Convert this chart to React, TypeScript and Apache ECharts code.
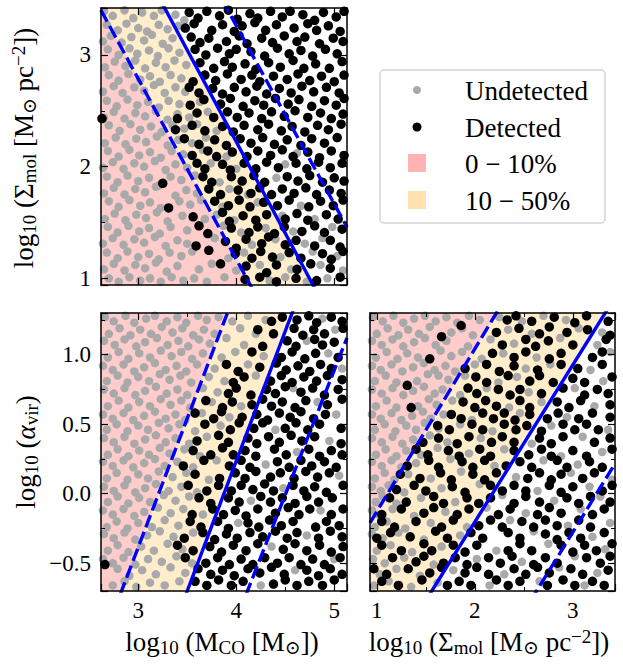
import React, { useEffect, useRef } from 'react';
import * as echarts from 'echarts';

type Pt = [number, number];

// ---------- axis ranges ----------
const massRange: Pt = [2.62, 5.13];      // log10 M_CO
const sigmaRangeY: Pt = [0.94, 3.42];    // log10 Sigma_mol (top panel, y)
const sigmaRangeX: Pt = [0.93, 3.43];    // log10 Sigma_mol (bottom right, x)
const alphaRange: Pt = [-0.70, 1.30];    // log10 alpha_vir

// ---------- detection-fraction boundaries (two points on each line) ----------
const massSigmaP10: Pt[] = [[2.62, 3.40], [4.14, 0.945]];
const massSigmaP50: Pt[] = [[3.27, 3.42], [4.78, 0.945]];
const massSigmaP90: Pt[] = [[3.92, 3.39], [5.11, 1.49]];
const massAlphaP10: Pt[] = [[2.83, -0.70], [3.91, 1.30]];
const massAlphaP50: Pt[] = [[3.50, -0.70], [4.57, 1.30]];
const massAlphaP90: Pt[] = [[4.145, -0.645], [5.11, 1.086]];
const sigmaAlphaP10: Pt[] = [[0.93, -0.21], [2.22, 1.30]];
const sigmaAlphaP50: Pt[] = [[1.56, -0.70], [3.33, 1.30]];
const sigmaAlphaP90: Pt[] = [[2.63, -0.70], [3.43, 0.216]];

const legendLabels = ['Undetected', 'Detected', '0 \u2212 10%', '10 \u2212 50%'];

// ---------- clouds: top panel (log M_CO, log Sigma_mol) ----------
const massSigmaUndetected: Pt[] = [
[2.65,3.39],[2.74,3.35],[2.86,3.40],[2.95,3.33],[3.04,3.38],[3.16,3.35],[3.24,3.40],[3.38,3.36],[3.47,3.31],
[2.68,3.27],[2.79,3.22],[2.88,3.28],[3.00,3.24],[3.09,3.21],[3.21,3.27],[3.30,3.23],[3.41,3.26],
[2.64,3.12],[2.72,3.17],[2.83,3.11],[2.93,3.16],[3.06,3.13],[3.14,3.18],[3.25,3.10],[3.35,3.15],
[2.69,3.05],[2.80,3.00],[2.91,3.06],[2.99,3.01],[3.11,3.04],[3.20,2.99],[3.31,3.06],[3.42,3.02],
[2.66,2.89],[2.76,2.94],[2.87,2.90],[2.97,2.95],[3.07,2.88],[3.18,2.93],[3.28,2.89],[3.37,2.95],[3.49,2.91],
[2.70,2.82],[2.80,2.77],[2.90,2.83],[3.02,2.78],[3.12,2.81],[3.22,2.76],[3.33,2.82],[3.44,2.79],
[2.64,2.67],[2.75,2.72],[2.84,2.66],[2.96,2.71],[3.06,2.68],[3.16,2.73],[3.27,2.66],[3.38,2.71],[3.48,2.67],
[2.68,2.59],[2.78,2.54],[2.89,2.60],[2.99,2.55],[3.10,2.58],[3.21,2.53],[3.31,2.59],[3.42,2.56],[3.63,2.58],
[2.65,2.44],[2.75,2.49],[2.86,2.43],[2.97,2.48],[3.07,2.45],[3.18,2.50],[3.30,2.42],[3.40,2.47],[3.52,2.44],[3.71,2.49],
[2.70,2.37],[2.81,2.32],[2.92,2.38],[3.02,2.33],[3.13,2.36],[3.24,2.31],[3.35,2.37],[3.47,2.34],[3.60,2.38],[3.80,2.32],
[2.66,2.21],[2.77,2.26],[2.87,2.20],[2.98,2.25],[3.08,2.22],[3.19,2.27],[3.30,2.19],[3.41,2.24],[3.55,2.21],[3.69,2.26],
[2.69,2.14],[2.80,2.09],[2.91,2.15],[3.01,2.10],[3.12,2.13],[3.23,2.08],[3.34,2.14],[3.46,2.11],[3.66,2.15],[3.90,2.09],[4.62,2.12],
[2.64,1.99],[2.74,2.04],[2.85,1.98],[2.96,2.03],[3.06,2.00],[3.17,2.05],[3.28,1.97],[3.38,2.02],[3.50,1.99],[3.74,2.03],[4.00,1.98],[4.50,2.02],
[2.68,1.91],[2.79,1.86],[2.89,1.92],[3.00,1.87],[3.11,1.90],[3.21,1.83],[3.33,1.91],[3.44,1.88],[3.58,1.92],[3.83,1.86],[4.41,1.90],
[2.65,1.76],[2.75,1.81],[2.86,1.75],[2.97,1.80],[3.07,1.77],[3.18,1.82],[3.38,1.74],[3.49,1.79],[3.60,1.76],[3.93,1.80],[4.12,1.75],
[2.70,1.69],[2.80,1.64],[2.91,1.70],[3.02,1.65],[3.12,1.68],[3.23,1.63],[3.42,1.69],[3.53,1.66],[3.64,1.70],[3.86,1.64],[4.22,1.68],[4.66,1.65],
[2.66,1.53],[2.76,1.58],[2.87,1.52],[2.98,1.57],[3.08,1.54],[3.19,1.59],[3.30,1.51],[3.45,1.56],[3.68,1.53],[3.80,1.57],[3.98,1.52],[4.47,1.56],[4.80,1.53],
[2.69,1.46],[2.79,1.41],[2.90,1.47],[3.01,1.42],[3.11,1.45],[3.22,1.40],[3.33,1.46],[3.50,1.43],[3.87,1.47],[4.05,1.41],[4.30,1.45],[4.58,1.42],[4.98,1.46],
[2.64,1.31],[2.74,1.36],[2.85,1.30],[2.96,1.35],[3.06,1.32],[3.17,1.37],[3.28,1.29],[3.40,1.34],[3.50,1.31],[3.78,1.36],[4.16,1.30],[4.40,1.35],[4.70,1.31],[4.88,1.36],
[2.68,1.23],[2.79,1.18],[2.89,1.24],[3.00,1.19],[3.11,1.22],[3.21,1.17],[3.32,1.23],[3.44,1.20],[3.55,1.24],[3.92,1.18],[4.08,1.23],[4.45,1.19],[4.78,1.24],[5.03,1.20],
[2.65,1.08],[2.75,1.13],[2.86,1.07],[2.97,1.12],[3.07,1.09],[3.18,1.14],[3.29,1.06],[3.40,1.11],[3.62,1.08],[3.75,1.13],[4.00,1.07],[4.24,1.12],[4.56,1.08],[4.86,1.12],[5.09,1.07],
[2.70,1.00],[2.80,0.97],[2.91,1.01],[3.02,0.98],[3.12,1.00],[3.23,0.97],[3.34,1.01],[3.46,0.98],[3.57,1.00],[3.70,0.97],[3.88,1.01],[4.34,0.98],[4.50,1.01],[4.72,0.97],[4.93,1.00]
];
const massSigmaDetected: Pt[] = [
[3.52,3.38],[3.61,3.33],[3.70,3.39],[3.83,3.35],[3.92,3.40],[4.01,3.32],[4.14,3.37],[4.22,3.33],[4.35,3.39],[4.47,3.34],[4.55,3.39],[4.68,3.36],[4.80,3.31],[4.89,3.38],[5.02,3.34],[5.10,3.39],
[3.48,3.24],[3.57,3.28],[3.75,3.22],[3.86,3.27],[3.98,3.21],[4.06,3.26],[4.19,3.29],[4.30,3.22],[4.41,3.27],[4.59,3.24],[4.73,3.28],[4.82,3.22],[4.94,3.26],[5.06,3.21],
[3.54,3.16],[3.63,3.11],[3.72,3.15],[3.90,3.12],[4.03,3.17],[4.11,3.10],[4.26,3.15],[4.37,3.11],[4.49,3.17],[4.62,3.12],[4.70,3.16],[4.85,3.10],[4.99,3.15],[5.09,3.12],
[3.58,3.05],[3.69,3.00],[3.81,3.06],[3.93,3.01],[4.00,3.05],[4.15,3.03],[4.29,2.99],[4.42,3.06],[4.54,3.01],[4.66,3.04],[4.78,2.99],[4.91,3.05],[5.03,3.01],
[3.63,2.93],[3.77,2.88],[3.88,2.94],[3.96,2.89],[4.09,2.92],[4.20,2.87],[4.33,2.93],[4.45,2.89],[4.58,2.95],[4.69,2.88],[4.81,2.92],[4.95,2.88],[5.08,2.94],
[3.56,2.76],[3.68,2.82],[3.79,2.77],[3.91,2.83],[4.05,2.78],[4.16,2.82],[4.24,2.76],[4.38,2.81],[4.52,2.78],[4.63,2.83],[4.75,2.77],[4.87,2.81],[5.00,2.76],[5.10,2.82],
[3.52,2.71],[3.62,2.66],[3.76,2.70],[3.86,2.65],[3.98,2.71],[4.10,2.67],[4.21,2.72],[4.31,2.65],[4.44,2.70],[4.56,2.66],[4.67,2.72],[4.79,2.67],[4.92,2.71],[5.05,2.66],
[3.53,2.55],[3.67,2.60],[3.84,2.56],[3.94,2.61],[4.07,2.54],[4.19,2.59],[4.28,2.55],[4.40,2.61],[4.53,2.56],[4.64,2.60],[4.77,2.54],[4.90,2.59],[5.02,2.55],[5.10,2.61],
[2.63,2.43],[3.40,2.43],[3.60,2.48],[3.77,2.44],[3.91,2.49],[4.01,2.44],[4.13,2.48],[4.26,2.43],[4.36,2.49],[4.49,2.45],[4.60,2.50],[4.73,2.44],[4.86,2.48],[4.97,2.43],[5.09,2.47],
[3.38,2.33],[3.55,2.37],[3.68,2.32],[3.86,2.36],[3.97,2.31],[4.08,2.37],[4.22,2.33],[4.33,2.38],[4.46,2.32],[4.57,2.36],[4.70,2.31],[4.83,2.37],[4.94,2.33],[5.07,2.38],
[3.47,2.25],[3.62,2.20],[3.78,2.24],[3.90,2.19],[4.04,2.25],[4.15,2.21],[4.27,2.26],[4.39,2.20],[4.52,2.24],[4.66,2.19],[4.77,2.25],[4.90,2.21],[5.03,2.26],
[3.55,2.10],[3.71,2.14],[3.80,2.09],[3.96,2.13],[4.11,2.09],[4.22,2.14],[4.35,2.10],[4.47,2.15],[4.58,2.09],[4.73,2.13],[4.85,2.08],[4.97,2.14],[5.10,2.10],
[3.60,2.03],[3.68,1.98],[3.86,2.02],[3.94,1.97],[4.08,2.03],[4.20,1.98],[4.31,2.04],[4.43,1.99],[4.61,2.03],[4.72,1.98],[4.84,2.04],[4.96,1.99],[5.08,2.03],
[3.25,1.85],[3.66,1.91],[3.75,1.86],[3.95,1.91],[4.06,1.87],[4.18,1.92],[4.29,1.86],[4.52,1.91],[4.63,1.87],[4.75,1.92],[4.88,1.86],[5.00,1.90],[5.10,1.87],
[3.72,1.80],[3.84,1.75],[4.02,1.79],[4.15,1.76],[4.24,1.81],[4.36,1.75],[4.47,1.80],[4.59,1.76],[4.71,1.81],[4.82,1.75],[4.95,1.79],[5.07,1.76],
[3.31,1.63],[3.78,1.69],[3.92,1.65],[4.03,1.70],[4.14,1.64],[4.28,1.68],[4.42,1.65],[4.54,1.70],[4.74,1.64],[4.86,1.69],[4.99,1.65],[5.09,1.70],
[3.56,1.55],[3.86,1.59],[3.93,1.51],[4.07,1.56],[4.20,1.52],[4.31,1.57],[4.50,1.53],[4.62,1.58],[4.73,1.52],[4.92,1.57],[5.04,1.53],
[3.62,1.47],[3.71,1.40],[3.95,1.45],[4.13,1.41],[4.22,1.46],[4.39,1.40],[4.49,1.46],[4.67,1.42],[4.80,1.47],[4.90,1.41],[5.08,1.44],
[3.59,1.29],[3.89,1.33],[4.00,1.27],[4.10,1.35],[4.26,1.31],[4.33,1.37],[4.50,1.30],[4.61,1.34],[4.80,1.29],[4.96,1.34],[5.06,1.28],
[3.72,1.25],[3.84,1.13],[3.99,1.22],[4.16,1.18],[4.25,1.24],[4.37,1.19],[4.54,1.23],[4.66,1.18],[4.88,1.22],[4.97,1.17],[5.09,1.24],
[4.10,1.11],[4.31,1.05],[4.41,1.12],[4.62,1.08],[4.76,1.13],[4.96,1.09],
[4.09,0.99],[4.24,1.01],[4.41,0.97],[4.61,1.00],[4.82,0.98],[5.06,1.01]
];

// ---------- clouds: bottom-left panel (log M_CO, log alpha_vir) ----------
const massAlphaUndetected: Pt[] = [
[2.66,1.27],[2.75,1.24],[2.87,1.28],[2.96,1.23],[3.08,1.26],[3.17,1.28],[3.29,1.24],[3.40,1.27],[3.49,1.23],[3.61,1.28],[3.70,1.25],[3.82,1.27],[3.96,1.24],[4.12,1.28],[4.30,1.25],[4.88,1.26],
[2.70,1.15],[2.81,1.19],[2.92,1.14],[3.02,1.18],[3.13,1.15],[3.24,1.20],[3.35,1.16],[3.45,1.19],[3.56,1.14],[3.67,1.18],[3.78,1.15],[4.04,1.19],[4.20,1.15],[5.01,1.18],
[2.65,1.10],[2.76,1.07],[2.86,1.11],[2.98,1.06],[3.07,1.09],[3.19,1.12],[3.30,1.07],[3.41,1.10],[3.51,1.06],[3.62,1.11],[3.73,1.08],[3.90,1.12],[4.08,1.07],[4.72,1.10],
[2.69,0.98],[2.80,1.02],[2.90,0.97],[3.01,1.01],[3.12,0.98],[3.23,1.03],[3.34,0.99],[3.44,1.02],[3.55,0.97],[3.66,1.01],[3.85,0.98],[3.99,1.02],[4.28,0.99],[4.94,1.01],
[2.64,0.92],[2.74,0.89],[2.85,0.93],[2.96,0.88],[3.06,0.91],[3.17,0.94],[3.28,0.89],[3.39,0.92],[3.49,0.88],[3.60,0.93],[3.78,0.90],[4.12,0.93],[5.08,0.90],
[2.68,0.81],[2.79,0.85],[2.89,0.80],[3.00,0.84],[3.11,0.81],[3.22,0.86],[3.32,0.82],[3.43,0.85],[3.54,0.80],[3.72,0.84],[3.88,0.81],[4.20,0.85],
[2.65,0.75],[2.75,0.72],[2.86,0.76],[2.97,0.71],[3.07,0.74],[3.18,0.77],[3.29,0.72],[3.40,0.75],[3.50,0.71],[3.66,0.76],[3.81,0.73],[4.58,0.76],
[2.69,0.63],[2.80,0.67],[2.90,0.62],[3.01,0.66],[3.12,0.63],[3.23,0.68],[3.33,0.64],[3.44,0.67],[3.53,0.62],[3.75,0.66],[4.05,0.63],[4.83,0.66],
[2.64,0.57],[2.74,0.54],[2.85,0.58],[2.95,0.53],[3.06,0.56],[3.17,0.59],[3.28,0.54],[3.38,0.57],[3.48,0.53],[3.65,0.58],[3.93,0.55],[5.02,0.57],
[2.68,0.46],[2.78,0.50],[2.89,0.45],[3.00,0.49],[3.10,0.46],[3.21,0.51],[3.31,0.47],[3.42,0.50],[3.58,0.45],[3.84,0.49],[4.40,0.46],
[2.65,0.40],[2.75,0.37],[2.86,0.41],[2.96,0.36],[3.07,0.39],[3.18,0.42],[3.28,0.37],[3.38,0.40],[3.52,0.36],[3.70,0.41],[4.95,0.38],
[2.69,0.28],[2.79,0.32],[2.90,0.27],[3.01,0.31],[3.11,0.28],[3.22,0.33],[3.32,0.29],[3.47,0.32],[3.63,0.27],[4.62,0.30],
[2.64,0.23],[2.74,0.20],[2.85,0.24],[2.95,0.19],[3.06,0.22],[3.17,0.25],[3.27,0.20],[3.40,0.23],[3.56,0.19],[3.80,0.24],[4.30,0.21],
[2.68,0.11],[2.78,0.15],[2.89,0.10],[3.00,0.14],[3.10,0.11],[3.21,0.16],[3.35,0.12],[3.49,0.15],[3.72,0.10],[5.05,0.13],
[2.65,0.05],[2.75,0.02],[2.86,0.06],[2.97,0.01],[3.07,0.04],[3.18,0.07],[3.31,0.02],[3.44,0.05],[3.60,0.01],[4.48,0.04],
[2.69,-0.06],[2.79,-0.02],[2.90,-0.07],[3.01,-0.03],[3.12,-0.06],[3.26,-0.01],[3.38,-0.05],[3.52,-0.02],[4.15,-0.05],
[2.64,-0.12],[2.74,-0.15],[2.85,-0.11],[2.96,-0.16],[3.06,-0.13],[3.20,-0.10],[3.33,-0.14],[3.46,-0.11],[3.66,-0.15],[4.86,-0.12],
[2.68,-0.24],[2.78,-0.20],[2.89,-0.25],[3.00,-0.21],[3.14,-0.24],[3.27,-0.19],[3.41,-0.23],[4.02,-0.21],
[2.65,-0.29],[2.75,-0.32],[2.86,-0.28],[2.97,-0.33],[3.09,-0.30],[3.22,-0.27],[3.36,-0.31],[3.56,-0.28],[4.72,-0.30],
[2.69,-0.41],[2.79,-0.37],[2.90,-0.42],[3.03,-0.38],[3.16,-0.41],[3.30,-0.36],[3.45,-0.40],[4.36,-0.38],
[2.64,-0.47],[2.74,-0.50],[2.85,-0.46],[2.97,-0.51],[3.10,-0.47],[3.24,-0.49],[3.39,-0.45],[3.55,-0.50],[5.00,-0.47],
[2.79,-0.54],[2.91,-0.59],[3.04,-0.55],[3.18,-0.58],[3.33,-0.53],[3.48,-0.57],[4.60,-0.55],
[2.74,-0.66],[2.86,-0.63],[2.98,-0.67],[3.12,-0.64],[3.27,-0.66],[3.42,-0.63],[4.25,-0.66]
];
const massAlphaDetected: Pt[] = [
[4.36,1.24],[4.47,1.27],[4.62,1.25],[4.74,1.28],[4.82,1.23],[4.97,1.27],[5.08,1.24],
[4.22,1.18],[4.38,1.15],[4.59,1.19],[4.68,1.14],[4.79,1.18],[4.90,1.15],[5.09,1.19],
[4.27,1.06],[4.52,1.10],[4.61,1.06],[4.80,1.11],[4.88,1.07],[5.00,1.09],
[4.16,1.02],[4.46,0.98],[4.57,1.02],[4.70,0.97],[4.81,1.01],[5.04,0.98],
[3.90,0.93],[4.02,0.88],[4.24,0.91],[4.41,0.94],[4.51,0.89],[4.63,0.92],[4.75,0.88],[4.86,0.93],[4.97,0.90],
[3.97,0.80],[4.08,0.84],[4.35,0.81],[4.46,0.85],[4.57,0.80],[4.69,0.84],[4.82,0.81],[4.93,0.85],[5.08,0.82],
[3.92,0.72],[4.00,0.76],[4.15,0.71],[4.31,0.75],[4.40,0.72],[4.50,0.77],[4.66,0.73],[4.78,0.76],[4.90,0.71],[5.04,0.75],
[3.69,0.67],[3.86,0.62],[3.96,0.66],[4.16,0.64],[4.27,0.68],[4.36,0.63],[4.47,0.66],[4.60,0.62],[4.71,0.67],[4.93,0.64],[5.08,0.68],
[3.58,0.58],[3.77,0.54],[3.85,0.59],[4.06,0.55],[4.21,0.57],[4.32,0.53],[4.44,0.58],[4.55,0.55],[4.66,0.59],[4.79,0.54],[4.91,0.57],
[3.68,0.50],[3.94,0.46],[4.03,0.51],[4.18,0.47],[4.27,0.51],[4.50,0.47],[4.61,0.51],[4.73,0.46],[4.85,0.50],[5.07,0.47],
[3.60,0.38],[3.82,0.42],[3.92,0.37],[4.12,0.40],[4.21,0.36],[4.33,0.41],[4.44,0.37],[4.56,0.42],[4.67,0.38],[4.80,0.41],[5.07,0.36],
[3.56,0.31],[3.74,0.28],[3.86,0.33],[3.97,0.28],[4.09,0.31],[4.20,0.27],[4.39,0.32],[4.51,0.28],[4.74,0.32],[4.85,0.27],[4.97,0.31],[5.08,0.28],
[3.46,0.20],[3.67,0.24],[3.93,0.20],[4.05,0.24],[4.14,0.19],[4.42,0.23],[4.54,0.19],[4.66,0.24],[4.77,0.20],[4.90,0.23],[5.02,0.19],
[3.58,0.14],[3.83,0.11],[3.99,0.15],[4.09,0.11],[4.20,0.16],[4.35,0.12],[4.45,0.15],[4.59,0.11],[4.71,0.16],[4.83,0.12],[4.95,0.15],
[3.51,0.06],[3.70,0.02],[3.82,0.06],[3.95,0.02],[4.05,0.06],[4.17,0.03],[4.29,0.07],[4.38,0.02],[4.58,0.06],[4.69,0.02],[4.80,0.05],[4.92,0.01],[5.09,0.06],
[3.62,-0.03],[3.74,-0.07],[3.92,-0.03],[4.03,-0.06],[4.25,-0.02],[4.35,-0.06],[4.47,-0.03],[4.60,-0.07],[4.72,-0.02],[4.84,-0.06],[4.98,-0.03],
[3.55,-0.15],[3.76,-0.11],[3.87,-0.15],[3.99,-0.12],[4.10,-0.16],[4.22,-0.11],[4.40,-0.14],[4.53,-0.10],[4.64,-0.15],[4.75,-0.11],[4.97,-0.15],[5.09,-0.11],
[3.53,-0.20],[3.64,-0.24],[3.81,-0.20],[3.92,-0.25],[4.12,-0.21],[4.23,-0.24],[4.34,-0.19],[4.46,-0.23],[4.58,-0.20],[4.81,-0.24],[4.92,-0.20],[5.05,-0.23],
[3.47,-0.32],[3.66,-0.28],[3.78,-0.33],[3.90,-0.29],[4.01,-0.32],[4.14,-0.28],[4.27,-0.31],[4.40,-0.27],[4.52,-0.32],[4.62,-0.28],[4.84,-0.32],[4.96,-0.27],[5.08,-0.31],
[3.40,-0.37],[3.56,-0.41],[3.73,-0.38],[3.85,-0.42],[3.97,-0.37],[4.10,-0.41],[4.22,-0.36],[4.48,-0.40],[4.60,-0.36],[4.72,-0.41],[4.85,-0.37],[4.97,-0.42],[5.09,-0.38],
[3.48,-0.46],[3.69,-0.50],[3.81,-0.46],[3.93,-0.51],[4.05,-0.47],[4.17,-0.51],[4.29,-0.46],[4.42,-0.50],[4.54,-0.46],[4.66,-0.51],[4.78,-0.47],[4.90,-0.51],[5.06,-0.46],
[2.66,-0.51],[3.61,-0.54],[3.74,-0.58],[3.86,-0.55],[3.98,-0.59],[4.12,-0.54],[4.24,-0.57],[4.36,-0.53],[4.49,-0.58],[4.72,-0.55],[4.84,-0.59],[4.96,-0.54],[5.08,-0.58],
[3.58,-0.63],[3.70,-0.66],[3.82,-0.62],[3.95,-0.66],[4.07,-0.63],[4.38,-0.65],[4.50,-0.62],[4.62,-0.66],[4.74,-0.63],[4.88,-0.66],[5.00,-0.62]
];

// ---------- clouds: bottom-right panel (log Sigma_mol, log alpha_vir) ----------
const sigmaAlphaUndetected: Pt[] = [
[0.96,1.27],[1.06,1.24],[1.17,1.28],[1.27,1.23],[1.38,1.26],[1.49,1.28],[1.60,1.24],[1.71,1.27],[1.82,1.23],[1.94,1.28],[2.05,1.25],[2.25,1.27],[2.48,1.24],[2.70,1.28],[2.93,1.25],
[1.00,1.15],[1.11,1.19],[1.22,1.14],[1.32,1.18],[1.43,1.15],[1.54,1.20],[1.76,1.16],[1.87,1.19],[1.98,1.14],[2.34,1.18],[2.58,1.15],[3.06,1.19],[3.30,1.16],
[0.95,1.10],[1.05,1.07],[1.16,1.11],[1.27,1.06],[1.38,1.09],[1.49,1.12],[1.60,1.07],[1.71,1.10],[1.93,1.06],[2.16,1.11],[2.40,1.08],[2.87,1.12],[3.25,1.07],
[0.99,0.98],[1.10,1.02],[1.21,0.97],[1.31,1.01],[1.42,0.98],[1.65,1.03],[1.76,0.99],[1.87,1.02],[2.07,0.97],[2.29,1.01],[2.63,0.98],[3.38,1.02],
[0.95,0.92],[1.04,0.89],[1.15,0.93],[1.26,0.88],[1.37,0.91],[1.48,0.94],[1.59,0.89],[1.70,0.92],[1.80,0.88],[2.00,0.93],[2.52,0.90],[2.77,0.93],[3.18,0.89],
[0.98,0.81],[1.09,0.85],[1.20,0.80],[1.41,0.81],[1.52,0.86],[1.63,0.85],[1.73,0.82],[1.90,0.85],[2.24,0.80],[2.43,0.84],[3.31,0.81],
[0.95,0.75],[1.05,0.72],[1.16,0.76],[1.27,0.71],[1.37,0.74],[1.48,0.77],[1.59,0.72],[1.67,0.75],[1.85,0.71],[2.12,0.76],[2.55,0.73],[3.02,0.76],
[0.99,0.63],[1.10,0.67],[1.20,0.62],[1.42,0.63],[1.53,0.68],[1.61,0.64],[1.77,0.67],[2.35,0.62],[2.68,0.66],[3.22,0.63],
[0.95,0.57],[1.04,0.54],[1.15,0.58],[1.25,0.53],[1.36,0.56],[1.47,0.59],[1.55,0.54],[1.68,0.57],[1.97,0.53],[2.46,0.58],[2.94,0.55],
[0.98,0.46],[1.08,0.50],[1.19,0.45],[1.30,0.49],[1.40,0.46],[1.49,0.51],[1.63,0.47],[1.85,0.50],[2.18,0.45],[2.78,0.49],[3.36,0.46],
[0.95,0.40],[1.05,0.37],[1.16,0.41],[1.26,0.36],[1.37,0.39],[1.54,0.42],[1.72,0.37],[2.06,0.40],[2.58,0.36],[3.10,0.41],
[0.99,0.28],[1.09,0.32],[1.20,0.27],[1.30,0.31],[1.45,0.28],[1.62,0.33],[1.94,0.29],[2.30,0.32],[2.88,0.27],[3.30,0.30],
[0.95,0.23],[1.05,0.20],[1.15,0.24],[1.25,0.19],[1.40,0.22],[1.75,0.25],[2.20,0.20],[2.70,0.24],[3.05,0.21],
[0.98,0.11],[1.08,0.15],[1.18,0.10],[1.32,0.14],[1.55,0.11],[1.86,0.16],[2.42,0.12],[2.98,0.15],[3.40,0.10],
[0.95,0.05],[1.04,0.02],[1.12,0.06],[1.28,0.01],[1.66,0.04],[2.05,0.07],[2.64,0.02],[3.17,0.05],
[0.99,-0.06],[1.06,-0.02],[1.20,-0.07],[1.45,-0.03],[1.80,-0.06],[2.28,-0.01],[2.81,-0.05],[3.28,-0.02],
[0.95,-0.12],[1.02,-0.15],[1.16,-0.11],[1.38,-0.16],[1.70,-0.13],[2.12,-0.10],[2.52,-0.14],[3.08,-0.11],
[0.98,-0.24],[1.10,-0.20],[1.29,-0.25],[1.55,-0.21],[1.92,-0.24],[2.36,-0.19],[2.95,-0.23],[3.38,-0.21],
[0.95,-0.29],[1.06,-0.32],[1.22,-0.28],[1.48,-0.33],[1.85,-0.30],[2.60,-0.27],[3.20,-0.31],
[1.00,-0.41],[1.14,-0.37],[1.36,-0.42],[1.66,-0.38],[2.22,-0.41],[2.75,-0.36],[3.33,-0.40],
[0.96,-0.47],[1.08,-0.50],[1.28,-0.46],[1.58,-0.51],[2.02,-0.47],[2.48,-0.49],[3.02,-0.45],
[1.03,-0.58],[1.20,-0.54],[1.44,-0.59],[1.78,-0.55],[2.30,-0.58],[2.86,-0.53],[3.25,-0.57],
[0.97,-0.66],[1.12,-0.63],[1.35,-0.67],[1.62,-0.64],[2.15,-0.66],[2.66,-0.63],[3.12,-0.66]
];
const sigmaAlphaDetected: Pt[] = [
[1.86,1.21],[2.33,1.25],[2.42,1.28],[2.58,1.24],[2.81,1.27],[3.02,1.23],[3.14,1.28],[3.36,1.24],
[1.66,1.13],[2.22,1.16],[2.45,1.19],[2.66,1.15],[2.76,1.20],[2.94,1.16],[3.15,1.18],[3.38,1.14],
[2.28,1.07],[2.52,1.11],[2.62,1.06],[2.75,1.10],[3.00,1.07],[3.34,1.11],
[1.54,0.97],[2.18,1.01],[2.40,0.98],[2.52,1.02],[2.76,0.97],[2.88,1.01],[3.20,0.98],[3.30,1.02],
[1.90,0.90],[2.12,0.93],[2.25,0.88],[2.40,0.92],[2.64,0.89],[2.88,0.93],[3.05,0.90],[3.30,0.93],
[1.31,0.78],[2.01,0.84],[2.12,0.80],[2.34,0.85],[2.56,0.81],[2.66,0.85],[2.80,0.80],[3.00,0.83],[3.12,0.80],[3.40,0.84],
[1.93,0.76],[2.02,0.72],[2.24,0.75],[2.36,0.71],[2.46,0.75],[2.68,0.72],[2.90,0.76],[3.12,0.71],[3.25,0.75],[3.36,0.72],
[1.35,0.62],[1.88,0.66],[2.00,0.62],[2.11,0.67],[2.22,0.63],[2.46,0.67],[2.56,0.62],[2.84,0.66],[2.96,0.62],[3.08,0.67],[3.38,0.64],
[1.76,0.57],[1.86,0.54],[2.08,0.58],[2.19,0.54],[2.30,0.58],[2.41,0.53],[2.56,0.57],[2.74,0.54],[2.85,0.58],[3.06,0.54],[3.20,0.58],[3.38,0.55],
[1.62,0.49],[1.74,0.46],[1.97,0.50],[2.08,0.46],[2.30,0.50],[2.42,0.46],[2.53,0.49],[2.68,0.45],[2.90,0.50],[3.02,0.46],[3.14,0.50],[3.26,0.46],
[1.47,0.37],[1.63,0.40],[1.82,0.36],[1.94,0.41],[2.17,0.37],[2.28,0.41],[2.40,0.37],[2.66,0.40],[2.78,0.36],[2.90,0.41],[3.22,0.37],[3.38,0.40],
[1.40,0.32],[1.52,0.28],[1.73,0.31],[1.84,0.27],[2.05,0.32],[2.16,0.27],[2.40,0.31],[2.55,0.28],[2.68,0.32],[2.78,0.27],[3.00,0.31],[3.14,0.27],[3.40,0.32],
[1.31,0.20],[1.53,0.24],[1.63,0.19],[1.87,0.23],[1.98,0.19],[2.10,0.24],[2.32,0.20],[2.46,0.23],[2.58,0.19],[2.84,0.24],[2.94,0.19],[3.17,0.23],[3.30,0.19],
[1.24,0.14],[1.44,0.11],[1.65,0.15],[1.76,0.10],[1.98,0.14],[2.10,0.10],[2.22,0.15],[2.54,0.11],[2.66,0.15],[2.78,0.10],[2.88,0.14],[3.10,0.11],[3.22,0.15],
[1.20,0.03],[1.38,0.06],[1.50,0.02],[1.77,0.05],[1.90,0.01],[2.16,0.06],[2.28,0.02],[2.40,0.06],[2.52,0.02],[2.76,0.06],[2.88,0.01],[3.00,0.05],[3.30,0.02],[3.40,0.06],
[1.13,-0.03],[1.30,-0.06],[1.58,-0.02],[1.68,-0.07],[1.92,-0.03],[2.04,-0.07],[2.16,-0.03],[2.40,-0.07],[2.52,-0.02],[2.66,-0.06],[2.94,-0.03],[3.06,-0.07],[3.18,-0.02],[3.38,-0.06],
[1.05,-0.15],[1.25,-0.11],[1.48,-0.14],[1.58,-0.10],[1.82,-0.15],[1.94,-0.11],[2.24,-0.15],[2.36,-0.11],[2.64,-0.15],[2.76,-0.10],[2.88,-0.14],[3.20,-0.15],[3.32,-0.11],
[1.05,-0.20],[1.18,-0.24],[1.40,-0.20],[1.66,-0.24],[1.78,-0.19],[2.04,-0.23],[2.16,-0.19],[2.28,-0.24],[2.48,-0.20],[2.60,-0.24],[2.72,-0.19],[2.84,-0.23],[3.06,-0.19],[3.18,-0.24],
[1.00,-0.32],[1.14,-0.28],[1.34,-0.31],[1.60,-0.27],[1.72,-0.32],[1.96,-0.28],[2.08,-0.32],[2.34,-0.28],[2.46,-0.32],[2.72,-0.29],[2.84,-0.33],[2.96,-0.28],[3.08,-0.32],[3.32,-0.28],
[1.05,-0.37],[1.25,-0.41],[1.48,-0.36],[1.56,-0.41],[1.78,-0.37],[1.90,-0.42],[2.02,-0.37],[2.34,-0.41],[2.46,-0.36],[2.58,-0.41],[2.88,-0.37],[3.00,-0.42],[3.12,-0.37],[3.24,-0.41],[3.40,-0.36],
[1.16,-0.46],[1.40,-0.49],[1.48,-0.45],[1.68,-0.50],[1.80,-0.46],[1.92,-0.51],[2.14,-0.46],[2.26,-0.50],[2.38,-0.45],[2.60,-0.51],[2.72,-0.46],[2.84,-0.50],[3.14,-0.46],[3.28,-0.50],[3.38,-0.45],
[0.97,-0.54],[1.10,-0.58],[1.32,-0.54],[1.54,-0.57],[1.66,-0.53],[1.90,-0.57],[2.02,-0.53],[2.14,-0.58],[2.40,-0.54],[2.52,-0.58],[2.64,-0.53],[2.76,-0.57],[2.98,-0.54],[3.10,-0.58],[3.36,-0.55],
[1.05,-0.63],[1.22,-0.66],[1.46,-0.62],[1.72,-0.66],[1.84,-0.63],[1.96,-0.66],[2.22,-0.62],[2.34,-0.66],[2.46,-0.63],[2.74,-0.66],[2.90,-0.62],[3.02,-0.66],[3.20,-0.63],[3.32,-0.66]
];

// ---------- styling ----------
const SERIF = "'Liberation Serif', 'DejaVu Serif', serif";
const GRAY = '#A9A9A9';
const PINK = '#FFCCCC';
const PEACH = '#FFEDCC';
const PINK_PATCH = '#FFB3B3';
const PEACH_PATCH = '#FFE2B0';
const BLUE = '#0000FF';

function lineAt(p: Pt[], x: number): number {
  const [[x1, y1], [x2, y2]] = p;
  return y1 + ((y2 - y1) / (x2 - x1)) * (x - x1);
}
function fullLine(p: Pt[], xr: Pt): Pt[] {
  return [[xr[0], lineAt(p, xr[0])], [xr[1], lineAt(p, xr[1])]];
}
function clampedLine(p: Pt[], xr: Pt, yr: Pt): Pt[] {
  const [[x1, y1], [x2, y2]] = p;
  const m = (y2 - y1) / (x2 - x1);
  const xs = [xr[0], xr[1]];
  for (const yb of yr) {
    const x = x1 + (yb - y1) / m;
    if (x > xr[0] && x < xr[1]) xs.push(x);
  }
  xs.sort((a, b) => a - b);
  return xs.map((x) => [x, Math.min(yr[1], Math.max(yr[0], lineAt(p, x)))] as Pt);
}

function valueAxis(gridIndex: number, position: string, range: Pt, step: number, showLabels: boolean, fmt: (v: number) => string, margin: number) {
  return {
    type: 'value', gridIndex, position, min: range[0], max: range[1],
    minInterval: step, maxInterval: step, splitNumber: 3, z: 10,
    axisLine: { show: true, onZero: false, lineStyle: { color: '#000', width: 1.5 } },
    axisTick: { show: true, inside: true, length: 7, lineStyle: { color: '#000', width: 1.2 } },
    minorTick: { show: true, splitNumber: 2, length: 4, lineStyle: { color: '#000', width: 1 } },
    splitLine: { show: false }, minorSplitLine: { show: false },
    axisPointer: { show: false },
    axisLabel: {
      show: showLabels, margin, color: '#000', fontFamily: SERIF, fontSize: 23,
      formatter: (v: number) => {
        const r = v / step;
        return Math.abs(r - Math.round(r)) < 1e-6 ? fmt(v) : '';
      },
    },
  };
}
const intFmt = (v: number) => String(Math.round(v));
const oneDec = (v: number) => (Math.abs(v) < 1e-9 ? 0 : v).toFixed(1).replace('-', '\u2212');

function panelSeries(k: number, xr: Pt, yr: Pt, p10: Pt[], p50: Pt[], p90: Pt[], undet: Pt[], det: Pt[], origin: 'start' | 'end') {
  const axes = { xAxisIndex: 2 * k, yAxisIndex: 2 * k };
  const area = (p: Pt[], color: string, z: number) => ({
    type: 'line', ...axes, data: clampedLine(p, xr, yr), symbol: 'none', silent: true, z,
    lineStyle: { width: 0, opacity: 0 }, areaStyle: { color, opacity: 1, origin },
  });
  const line = (p: Pt[], dashed: boolean) => ({
    type: 'line', ...axes, data: fullLine(p, xr), symbol: 'none', silent: true, z: 6,
    lineStyle: { color: BLUE, width: 3.4, type: dashed ? [13, 5] : 'solid', cap: 'butt' },
  });
  const scatter = (d: Pt[], color: string, size: number, z: number) => ({
    type: 'scatter', ...axes, data: d, symbol: 'circle', symbolSize: size, silent: true, z,
    itemStyle: { color, opacity: 1 },
  });
  return [
    area(p50, PEACH, 1), area(p10, PINK, 2),
    scatter(undet, GRAY, 8.5, 3), scatter(det, '#000', 9.5, 4),
    line(p50, false), line(p10, true), line(p90, true),
  ];
}

const richBase = { fontFamily: SERIF, fill: '#000', color: '#000' };
const rich = {
  n: { ...richBase, fontSize: 27 },
  i: { ...richBase, fontSize: 27, fontStyle: 'italic' },
  s: { ...richBase, fontSize: 19, padding: [11, 0, 0, 0] },
  p: { ...richBase, fontSize: 19, padding: [0, 0, 11, 0] },
};
const massName = '{n|log}{s|10}{n| (M}{s|CO}{n| [M}{s|\u2299}{n|])}';
const sigmaName = '{n|log}{s|10}{n| (\u03A3}{s|mol}{n| [M}{s|\u2299}{n| pc}{p|\u22122}{n|])}';
const alphaName = '{n|log}{s|10}{n| (}{i|\u03B1}{s|vir}{n|)}';

function nameText(text: string, x: number, y: number, rotation = 0) {
  return {
    type: 'text', x, y, rotation, silent: true, z: 20,
    style: { text, rich, align: 'center', verticalAlign: 'middle', textAlign: 'center', textVerticalAlign: 'middle', fill: '#000' },
  };
}

function buildOption() {
  const legendY = [91, 128, 164, 201];
  const legendText = legendLabels.map((t, i) => ({
    type: 'text', x: 465, y: legendY[i], silent: true, z: 21,
    style: { text: t, fontFamily: SERIF, fontSize: 27, fill: '#000', align: 'left', verticalAlign: 'middle', textAlign: 'left', textVerticalAlign: 'middle' },
  }));
  return {
    animation: false,
    backgroundColor: '#fff',
    grid: [
      { left: 101, top: 8, width: 246, height: 277 },
      { left: 101, top: 313, width: 246, height: 278 },
      { left: 370, top: 313, width: 245, height: 278 },
    ],
    xAxis: [
      valueAxis(0, 'bottom', massRange, 1, false, intFmt, 8),
      valueAxis(0, 'top', massRange, 1, false, intFmt, 8),
      valueAxis(1, 'bottom', massRange, 1, true, intFmt, 8),
      valueAxis(1, 'top', massRange, 1, false, intFmt, 8),
      valueAxis(2, 'bottom', sigmaRangeX, 1, true, intFmt, 8),
      valueAxis(2, 'top', sigmaRangeX, 1, false, intFmt, 8),
    ],
    yAxis: [
      valueAxis(0, 'left', sigmaRangeY, 1, true, intFmt, 10),
      valueAxis(0, 'right', sigmaRangeY, 1, false, intFmt, 10),
      valueAxis(1, 'left', alphaRange, 0.5, true, oneDec, 10),
      valueAxis(1, 'right', alphaRange, 0.5, false, oneDec, 10),
      valueAxis(2, 'left', alphaRange, 0.5, false, oneDec, 10),
      valueAxis(2, 'right', alphaRange, 0.5, false, oneDec, 10),
    ],
    series: [
      ...panelSeries(0, massRange, sigmaRangeY, massSigmaP10, massSigmaP50, massSigmaP90, massSigmaUndetected, massSigmaDetected, 'start'),
      ...panelSeries(1, massRange, alphaRange, massAlphaP10, massAlphaP50, massAlphaP90, massAlphaUndetected, massAlphaDetected, 'end'),
      ...panelSeries(2, sigmaRangeX, alphaRange, sigmaAlphaP10, sigmaAlphaP50, sigmaAlphaP90, sigmaAlphaUndetected, sigmaAlphaDetected, 'end'),
    ],
    graphic: [
      nameText(sigmaName, 24, 148, Math.PI / 2),
      nameText(alphaName, 26, 452, Math.PI / 2),
      nameText(massName, 222, 642),
      nameText(sigmaName, 489, 642),
      {
        type: 'rect', silent: true, z: 20,
        shape: { x: 380, y: 70, width: 225, height: 153, r: 4 },
        style: { fill: '#fff', stroke: '#d4d4d4', lineWidth: 1.5 },
      },
      { type: 'circle', silent: true, z: 21, shape: { cx: 417, cy: 90, r: 4 }, style: { fill: GRAY } },
      { type: 'circle', silent: true, z: 21, shape: { cx: 417, cy: 127, r: 4.5 }, style: { fill: '#000' } },
      { type: 'rect', silent: true, z: 21, shape: { x: 408, y: 154, width: 18, height: 18 }, style: { fill: PINK_PATCH } },
      { type: 'rect', silent: true, z: 21, shape: { x: 408, y: 191, width: 18, height: 18 }, style: { fill: PEACH_PATCH } },
      ...legendText,
    ],
  };
}

export default function App() {
  const ref = useRef<HTMLDivElement>(null);
  useEffect(() => {
    if (!ref.current) return;
    const chart = echarts.init(ref.current, undefined, { renderer: 'svg' });
    chart.setOption(buildOption() as any);
    return () => chart.dispose();
  }, []);
  return <div ref={ref} style={{ position: 'absolute', left: 0, top: 0, width: 623, height: 667, background: '#fff' }} />;
}
